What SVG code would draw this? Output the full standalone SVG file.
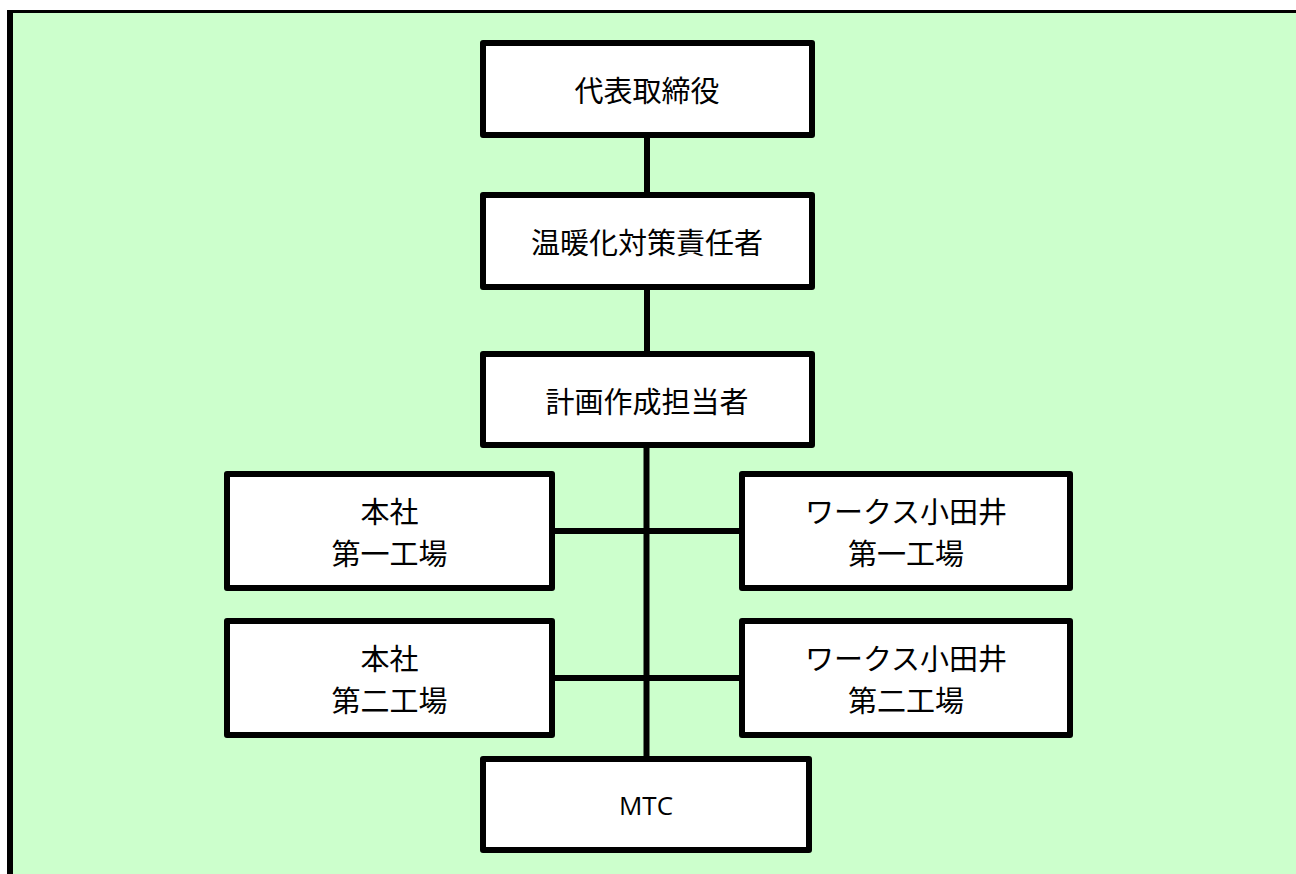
<svg xmlns="http://www.w3.org/2000/svg" width="1296" height="874" viewBox="0 0 1296 874">
<style>
.box{fill:#FFFFFF;stroke:#000000;stroke-width:6;stroke-linejoin:round}
.ln{stroke:#000000;stroke-width:6;fill:none}
.t{font-family:"Noto Sans CJK JP","Noto Sans",sans-serif;font-size:29px;fill:#000000;text-anchor:middle;dominant-baseline:central}
.m{font-family:"Open Sans","Liberation Sans",sans-serif;font-size:26px;fill:#000000;text-anchor:middle;dominant-baseline:central}
</style>
<rect x="0" y="0" width="1296" height="874" fill="#FFFFFF"/>
<rect x="13" y="13" width="1283" height="861" fill="#CCFFCC"/>
<rect x="7" y="10" width="6" height="864" fill="#000000"/>
<rect x="7" y="10" width="1289" height="3" fill="#000000"/>
<g id="connectors">
<line class="ln" x1="647" y1="138" x2="647" y2="192"/>
<line class="ln" x1="647" y1="290" x2="647" y2="351"/>
<line class="ln" x1="646.5" y1="448" x2="646.5" y2="756"/>
<line class="ln" x1="555" y1="531" x2="739" y2="531"/>
<line class="ln" x1="555" y1="678" x2="739" y2="678"/>
</g>
<g id="n1"><rect class="box" x="483" y="43" width="329" height="92"/><text class="t" x="647" y="89">代表取締役</text></g>
<g id="n2"><rect class="box" x="483" y="195" width="329" height="92"/><text class="t" x="647" y="241">温暖化対策責任者</text></g>
<g id="n3"><rect class="box" x="483" y="354" width="329" height="91"/><text class="t" x="647" y="399.5">計画作成担当者</text></g>
<g id="n4"><rect class="box" x="227" y="474" width="325" height="114"/><text class="t" x="389.5" y="510"><tspan x="389.5" y="510">本社</tspan><tspan x="389.5" y="552">第一工場</tspan></text></g>
<g id="n5"><rect class="box" x="742" y="474" width="328" height="114"/><text class="t" x="906" y="510"><tspan x="906" y="510">ワークス小田井</tspan><tspan x="906" y="552">第一工場</tspan></text></g>
<g id="n6"><rect class="box" x="227" y="621" width="325" height="114"/><text class="t" x="389.5" y="657"><tspan x="389.5" y="657">本社</tspan><tspan x="389.5" y="699">第二工場</tspan></text></g>
<g id="n7"><rect class="box" x="742" y="621" width="328" height="114"/><text class="t" x="906" y="657"><tspan x="906" y="657">ワークス小田井</tspan><tspan x="906" y="699">第二工場</tspan></text></g>
<g id="n8"><rect class="box" x="483" y="759" width="326" height="91"/><text class="m" x="646" y="805">MTC</text></g>
</svg>
